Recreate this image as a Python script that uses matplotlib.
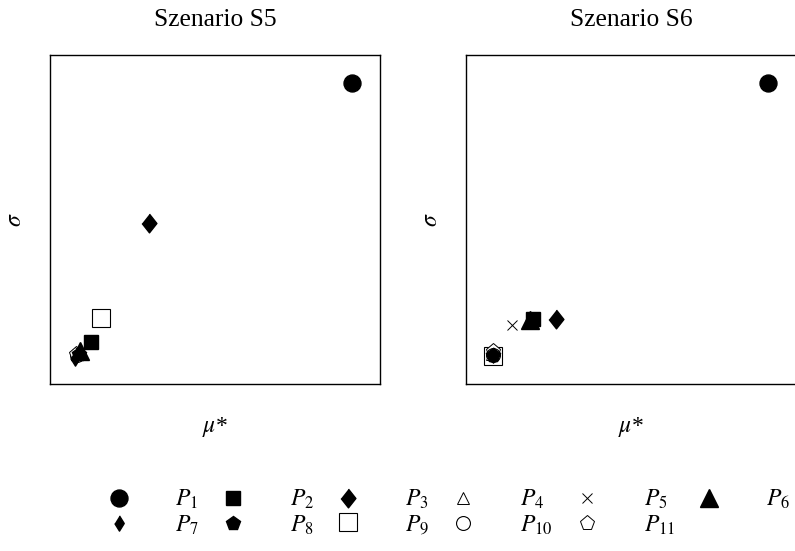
import numpy as np
import matplotlib.pyplot as plt
from matplotlib.lines import Line2D

plt.rcParams['font.family'] = ['Liberation Serif', 'DejaVu Serif']
plt.rcParams['mathtext.fontset'] = 'stix'

# Punkte P1..P11 (mu*, sigma), normiert auf [0, 1]
labels = ['$P_{1}$', '$P_{2}$', '$P_{3}$', '$P_{4}$', '$P_{5}$', '$P_{6}$',
          '$P_{7}$', '$P_{8}$', '$P_{9}$', '$P_{10}$', '$P_{11}$']
mu_s5 = [0.915, 0.124, 0.300, 0.085, 0.090, 0.092, 0.075, 0.088, 0.155, 0.082, 0.080]
sig_s5 = [0.915, 0.128, 0.490, 0.095, 0.098, 0.100, 0.080, 0.092, 0.200, 0.088, 0.090]
mu_s6 = [0.915, 0.203, 0.273, 0.080, 0.139, 0.195, 0.082, 0.082, 0.082, 0.082, 0.082]
sig_s6 = [0.915, 0.198, 0.198, 0.090, 0.179, 0.194, 0.088, 0.088, 0.085, 0.088, 0.100]

tall_diamond = [(0, 1), (0.79, 0), (0, -1), (-0.79, 0)]
thin_diamond = [(0, 1), (0.62, 0), (0, -1), (-0.62, 0)]

# marker, groesse, fuellung
styles = [
    dict(marker='o', ms=12.2, mfc='k', mec='k'),
    dict(marker='s', ms=10.5, mfc='k', mec='k'),
    dict(marker=tall_diamond, ms=13.5, mfc='k', mec='k'),
    dict(marker='^', ms=9, mfc='white', mec='k', mew=0.7),
    dict(marker='x', ms=7, mfc='k', mec='k', mew=0.7),
    dict(marker='^', ms=13, mfc='k', mec='k'),
    dict(marker=thin_diamond, ms=11, mfc='k', mec='k'),
    dict(marker='p', ms=10.5, mfc='k', mec='k'),
    dict(marker='s', ms=13.5, mfc='white', mec='k', mew=0.8),
    dict(marker='o', ms=10, mfc='white', mec='k', mew=0.8),
    dict(marker='p', ms=11, mfc='white', mec='k', mew=0.7),
]

fig = plt.figure(figsize=(7.95, 5.51), dpi=100)
ax1 = fig.add_axes([50/795, 1-384/551, 330/795, 329/551])
ax2 = fig.add_axes([466/795, 1-384/551, 330/795, 329/551])

order_s5 = [8, 3, 9, 10, 1, 2, 0, 4, 5, 6, 7]
order_s6 = [8, 10, 9, 3, 6, 7, 5, 4, 1, 2, 0]
for ax, mu, sig, title, order in [(ax1, mu_s5, sig_s5, 'Szenario S5', order_s5),
                                  (ax2, mu_s6, sig_s6, 'Szenario S6', order_s6)]:
    for i in order:
        ax.plot(mu[i], sig[i], ls='none', **styles[i])
    ax.set_xlim(0, 1)
    ax.set_ylim(0, 1)
    ax.set_xticks([])
    ax.set_yticks([])
    for sp in ax.spines.values():
        sp.set_linewidth(1.0)
    ax.set_title(title, fontsize=18.4, pad=21)
    ax.set_xlabel(r'$\mu$*', fontsize=17, labelpad=22)
    ax.set_ylabel(r'$\sigma$', fontsize=17, labelpad=17)

handles = [Line2D([], [], ls='none', **styles[i]) for i in range(11)]
# Reihenfolge so, dass die Legende zeilenweise gefuellt wird
leg_order = [0, 6, 1, 7, 2, 8, 3, 9, 4, 10, 5]
fig.legend([handles[i] for i in leg_order], [labels[i] for i in leg_order],
           ncol=6, loc='upper left', bbox_to_anchor=(95/795, 1-488/551),
           frameon=False, fontsize=17, handlelength=2.0, handletextpad=1.4,
           columnspacing=0.45, borderpad=0, borderaxespad=0, labelspacing=0.1,
           numpoints=1)

fig.savefig('out.png', dpi=100)
